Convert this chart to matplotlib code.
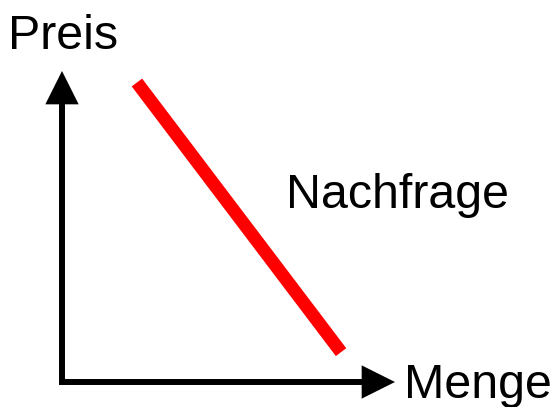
import matplotlib
matplotlib.use("Agg")
import matplotlib.pyplot as plt

plt.rcParams["font.family"] = ["Liberation Sans", "DejaVu Sans"]

# demand curve (Menge, Preis) in axis units 0..10
menge = [2.25, 8.38]
preis = [9.63, 0.96]

X_LABEL = "Menge"
Y_LABEL = "Preis"
CURVE_LABEL = "Nachfrage"

fig = plt.figure(figsize=(5.6, 4.07), dpi=100)
ax = fig.add_axes([62 / 560, 25 / 407, 333 / 560, 311 / 407])
ax.set_xlim(0, 10)
ax.set_ylim(0, 10)
ax.axis("off")

# axes with arrow heads
ax.plot([0, 0, 9.2], [9.0, 0, 0], c="black", lw=4.3, solid_joinstyle="miter",
        solid_capstyle="projecting", clip_on=False)
head = dict(arrowstyle="-|>", lw=0, color="black", mutation_scale=60, shrinkA=0, shrinkB=0)
ax.annotate("", xy=(10, 0), xytext=(8.5, 0), arrowprops=head, annotation_clip=False)
ax.annotate("", xy=(0, 10), xytext=(0, 8.5), arrowprops=head, annotation_clip=False)

ax.plot(menge, preis, c="red", lw=9.4, solid_capstyle="butt", clip_on=False)

fig.text(8 / 560, 1 - 49 / 407, Y_LABEL, fontsize=34.8, va="baseline")
fig.text(286 / 560, 1 - 208 / 407, CURVE_LABEL, fontsize=34.8, va="baseline")
fig.text(404.5 / 560, 1 - 398 / 407, X_LABEL, fontsize=34.8, va="baseline")

fig.savefig("out.png", dpi=100)
